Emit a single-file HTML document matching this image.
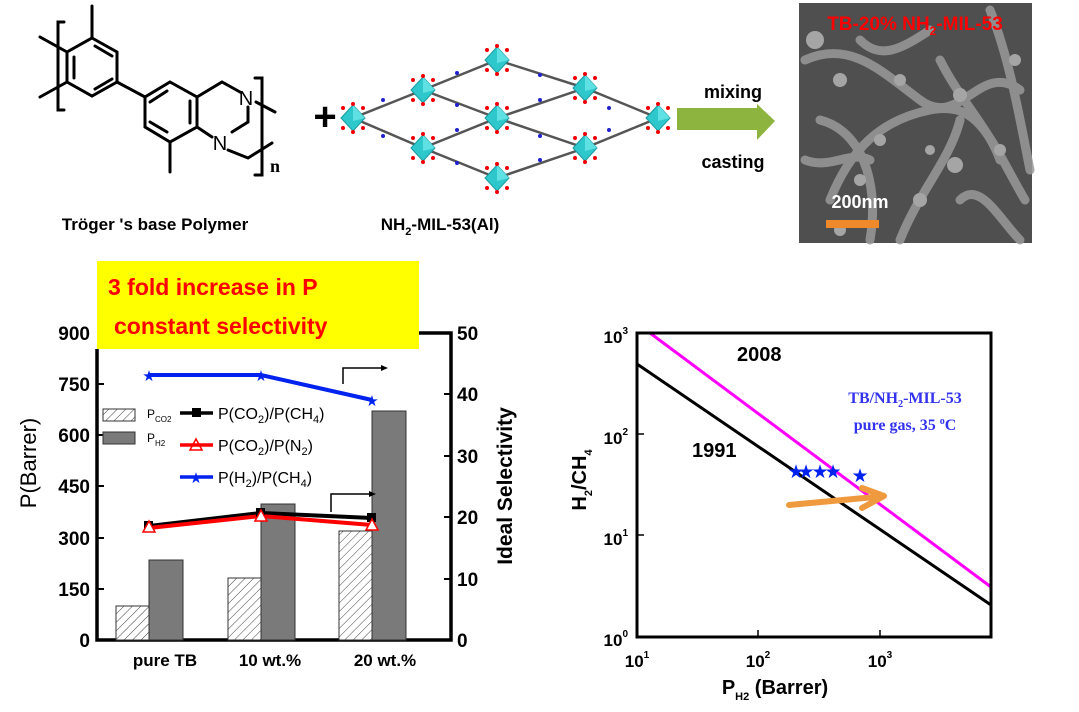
<!DOCTYPE html>
<html><head><meta charset="utf-8"><style>
body{margin:0;background:#fff}
svg{display:block;font-family:"Liberation Sans",sans-serif}
</style></head><body>
<svg width="1079" height="712" viewBox="0 0 1079 712" xmlns="http://www.w3.org/2000/svg">
<defs>
<pattern id="hatch" width="6" height="6" patternUnits="userSpaceOnUse" patternTransform="rotate(45)">
<rect width="6" height="6" fill="#fff"/><line x1="0" y1="0" x2="0" y2="6" stroke="#444" stroke-width="1"/></pattern>
<g id="node"><polygon points="0,-13 12,0 0,13 -12,0" fill="#2ec8cc" stroke="#1a9aa0" stroke-width="1"/><polygon points="0,-13 12,0 0,3" fill="#5fe0e3"/>
<circle cx="-10" cy="-10" r="2" fill="#e00"/><circle cx="10" cy="-10" r="2" fill="#e00"/><circle cx="-10" cy="10" r="2" fill="#e00"/><circle cx="10" cy="10" r="2" fill="#e00"/><circle cx="0" cy="-14" r="2" fill="#e00"/><circle cx="0" cy="14" r="2" fill="#e00"/></g>
</defs>

<!-- chemical structure -->
<g stroke="#000" stroke-width="3" fill="none" stroke-linecap="round">
<polygon points="92,38 117,52 117,82 92,96 67,82 67,52"/>
<line x1="74" y1="57" x2="74" y2="78"/><line x1="95" y1="46" x2="112" y2="56"/><line x1="95" y1="89" x2="112" y2="79"/>
<line x1="92" y1="38" x2="92" y2="6"/><line x1="67" y1="52" x2="40" y2="37"/><line x1="67" y1="82" x2="40" y2="97"/>
<path d="M64,22 H58 V110 H64"/>
<line x1="117" y1="82" x2="145" y2="97"/>
<polygon points="170,82 197,97 197,127 170,142 145,127 145,97"/>
<line x1="190" y1="101" x2="190" y2="123"/><line x1="150" y1="122" x2="167" y2="132"/><line x1="150" y1="102" x2="167" y2="91"/>
<line x1="170" y1="142" x2="170" y2="172"/>
<polyline points="197,97 222,82 240,92"/><polyline points="197,127 212,137"/>
<polyline points="248,107 248,122 232,132"/>
<polyline points="228,150 248,158 272,143"/>
<line x1="256" y1="102" x2="275" y2="112"/>
<path d="M255,78 H262 V175 H255"/>
</g>
<text x="246" y="105" font-size="20" text-anchor="middle">N</text>
<text x="220" y="150" font-size="20" text-anchor="middle">N</text>
<text x="270" y="172" font-size="18" font-family="Liberation Serif" font-weight="bold">n</text>
<text x="155" y="230" font-size="17" font-weight="bold" text-anchor="middle">Tröger 's base Polymer</text>
<text x="325" y="130" font-size="40" font-weight="bold" text-anchor="middle">+</text>

<!-- MOF -->
<g stroke="#555" stroke-width="2.5">
<line x1="353" y1="118" x2="423" y2="90"/><line x1="353" y1="118" x2="423" y2="148"/>
<line x1="423" y1="90" x2="497" y2="60"/><line x1="423" y1="90" x2="497" y2="118"/>
<line x1="423" y1="148" x2="497" y2="118"/><line x1="423" y1="148" x2="497" y2="178"/>
<line x1="497" y1="60" x2="585" y2="88"/><line x1="497" y1="118" x2="585" y2="88"/>
<line x1="497" y1="118" x2="585" y2="148"/><line x1="497" y1="178" x2="585" y2="148"/>
<line x1="585" y1="88" x2="658" y2="118"/><line x1="585" y1="148" x2="658" y2="118"/>
</g>
<g fill="#22c" >
<circle cx="383" cy="100" r="2"/><circle cx="383" cy="136" r="2"/><circle cx="457" cy="73" r="2"/><circle cx="457" cy="105" r="2"/><circle cx="457" cy="130" r="2"/><circle cx="457" cy="163" r="2"/><circle cx="540" cy="75" r="2"/><circle cx="540" cy="100" r="2"/><circle cx="540" cy="136" r="2"/><circle cx="540" cy="160" r="2"/><circle cx="609" cy="108" r="2"/><circle cx="609" cy="130" r="2"/>
</g>
<use href="#node" x="353" y="118"/><use href="#node" x="423" y="90"/><use href="#node" x="423" y="148"/>
<use href="#node" x="497" y="60"/><use href="#node" x="497" y="118"/><use href="#node" x="497" y="178"/>
<use href="#node" x="585" y="88"/><use href="#node" x="585" y="148"/><use href="#node" x="658" y="118"/>
<text x="440" y="230" font-size="17" font-weight="bold" text-anchor="middle">NH<tspan font-size="11" dy="5">2</tspan><tspan dy="-5">-MIL-53(Al)</tspan></text>

<!-- arrow -->
<polygon points="677,108 757,108 757,104 775,121 757,140 757,130 677,130" fill="#8db43e"/>
<text x="733" y="98" font-size="18" font-weight="bold" text-anchor="middle">mixing</text>
<text x="733" y="168" font-size="18" font-weight="bold" text-anchor="middle">casting</text>

<!-- SEM -->
<rect x="799" y="3" width="233" height="240" fill="#4f4f4f"/>
<g stroke="#9a9a9a" stroke-width="9" fill="none" stroke-linecap="round" opacity="0.85">
<path d="M805,60 C850,40 880,70 920,100 S980,60 1020,90"/>
<path d="M830,200 C850,150 880,120 930,110 S990,140 1025,200"/>
<path d="M900,240 C920,190 950,160 960,120"/>
<path d="M820,120 C860,130 880,180 870,240"/>
<path d="M990,10 C1010,60 1020,120 1030,170"/>
<path d="M940,60 C960,100 990,130 1000,160"/>
<path d="M860,40 C880,60 900,50 930,30"/>
<path d="M960,200 C980,180 1000,220 1020,240"/>
<path d="M805,160 C830,170 850,150 870,160"/>
</g>
<g fill="#a5a5a5"><circle cx="840" cy="80" r="7"/><circle cx="880" cy="140" r="6"/><circle cx="955" cy="165" r="8"/><circle cx="860" cy="180" r="6"/><circle cx="1000" cy="150" r="6"/><circle cx="920" cy="200" r="7"/><circle cx="815" cy="40" r="9"/><circle cx="900" cy="80" r="6"/><circle cx="960" cy="95" r="7"/><circle cx="1015" cy="60" r="6"/><circle cx="840" cy="230" r="6"/><circle cx="930" cy="150" r="5"/></g>
<text x="915" y="30" font-size="19" font-weight="bold" fill="#f00" text-anchor="middle">TB-20% NH<tspan font-size="12" dy="5">2</tspan><tspan dy="-5">-MIL-53</tspan></text>
<text x="860" y="208" font-size="18" font-weight="bold" fill="#fff" text-anchor="middle">200nm</text>
<rect x="826" y="220" width="53" height="8" fill="#f0892a"/>

<!-- left chart -->
<rect x="97" y="261" width="322" height="88" fill="#ffff00"/>
<text x="108" y="295" font-size="23" font-weight="bold" fill="#f00">3 fold increase in P</text>
<text x="114" y="334" font-size="23" font-weight="bold" fill="#f00">constant selectivity</text>
<g stroke="#000" stroke-width="3.5" fill="none">
<polyline points="97,349 97,640 451,640 451,333 419,333"/>
</g>
<g stroke="#000" stroke-width="2">
<line x1="97" y1="384" x2="104" y2="384"/><line x1="97" y1="435" x2="104" y2="435"/><line x1="97" y1="486" x2="104" y2="486"/><line x1="97" y1="538" x2="104" y2="538"/><line x1="97" y1="589" x2="104" y2="589"/>
<line x1="444" y1="394" x2="451" y2="394"/><line x1="444" y1="456" x2="451" y2="456"/><line x1="444" y1="517" x2="451" y2="517"/><line x1="444" y1="579" x2="451" y2="579"/>
</g>
<g font-size="19" font-weight="bold" text-anchor="end">
<text x="90" y="340">900</text><text x="90" y="391">750</text><text x="90" y="442">600</text><text x="90" y="493">450</text><text x="90" y="545">300</text><text x="90" y="596">150</text><text x="90" y="647">0</text>
</g>
<g font-size="19" font-weight="bold">
<text x="457" y="340">50</text><text x="457" y="401">40</text><text x="457" y="463">30</text><text x="457" y="524">20</text><text x="457" y="586">10</text><text x="457" y="647">0</text>
</g>
<text transform="translate(36,463) rotate(-90)" font-size="22" text-anchor="middle">P(Barrer)</text>
<text transform="translate(512,486) rotate(-90)" font-size="21" font-weight="bold" text-anchor="middle">Ideal Selectivity</text>
<g font-size="17" font-weight="bold" text-anchor="middle">
<text x="165" y="666">pure TB</text><text x="270" y="666">10 wt.%</text><text x="385" y="666">20 wt.%</text>
</g>
<g stroke="#333" stroke-width="1">
<rect x="116" y="606" width="33" height="34" fill="url(#hatch)"/>
<rect x="149" y="560" width="34" height="80" fill="#7a7a7a"/>
<rect x="228" y="578" width="33" height="62" fill="url(#hatch)"/>
<rect x="261" y="504" width="34" height="136" fill="#7a7a7a"/>
<rect x="339" y="531" width="33" height="109" fill="url(#hatch)"/>
<rect x="372" y="411" width="34" height="229" fill="#7a7a7a"/>
<rect x="103" y="409" width="32" height="12" fill="url(#hatch)"/>
<rect x="103" y="432" width="32" height="12" fill="#7a7a7a"/>
</g>
<text x="147" y="418" font-size="12">P<tspan font-size="8" dy="4">CO2</tspan></text>
<text x="147" y="442" font-size="12">P<tspan font-size="8" dy="4">H2</tspan></text>
<!-- lines -->
<polyline points="149,526 261,513 372,518" stroke="#000" stroke-width="4" fill="none"/>
<polyline points="149,528 261,516 372,525" stroke="#f00" stroke-width="4" fill="none"/>
<polyline points="149,375 261,375 372,400" stroke="#0022ee" stroke-width="4" fill="none"/>
<g fill="#000"><rect x="144" y="521" width="9" height="9"/><rect x="256" y="508" width="9" height="9"/><rect x="367" y="513" width="9" height="9"/><rect x="192" y="408" width="9" height="9"/></g>
<g fill="#fff" stroke="#f00" stroke-width="1.5"><polygon points="149,521 155,532 143,532"/><polygon points="261,510 267,521 255,521"/><polygon points="372,519 378,530 366,530"/><polygon points="196,439 202,450 190,450"/></g>
<g fill="#0022ee" font-size="15" text-anchor="middle"><text x="149" y="381">★</text><text x="261" y="381">★</text><text x="372" y="406">★</text><text x="196" y="483">★</text></g>
<line x1="180" y1="413" x2="213" y2="413" stroke="#000" stroke-width="3.5"/>
<line x1="180" y1="445" x2="213" y2="445" stroke="#f00" stroke-width="3.5"/>
<line x1="180" y1="477" x2="213" y2="477" stroke="#0022ee" stroke-width="3.5"/>
<g font-size="16"><text x="218" y="419">P(CO<tspan font-size="11" dy="4">2</tspan><tspan dy="-4">)/P(CH</tspan><tspan font-size="11" dy="4">4</tspan><tspan dy="-4">)</tspan></text>
<text x="218" y="451">P(CO<tspan font-size="11" dy="4">2</tspan><tspan dy="-4">)/P(N</tspan><tspan font-size="11" dy="4">2</tspan><tspan dy="-4">)</tspan></text>
<text x="218" y="483">P(H<tspan font-size="11" dy="4">2</tspan><tspan dy="-4">)/P(CH</tspan><tspan font-size="11" dy="4">4</tspan><tspan dy="-4">)</tspan></text></g>
<g stroke="#000" stroke-width="1.5" fill="none"><polyline points="343,384 343,368 384,368"/><polyline points="331,512 331,494 372,494"/></g>
<polygon points="388,368 381,365 381,371" fill="#000"/><polygon points="376,494 369,491 369,497" fill="#000"/>

<!-- right chart -->
<polyline points="650,333 991,587" stroke="#ff00ff" stroke-width="3" fill="none"/>
<polyline points="637,364 991,605" stroke="#000" stroke-width="3" fill="none"/>
<rect x="637" y="333" width="354" height="304" fill="none" stroke="#000" stroke-width="3"/>
<g stroke="#000" stroke-width="1.5">
<line x1="637" y1="434" x2="644" y2="434"/><line x1="637" y1="535" x2="644" y2="535"/>
<line x1="758" y1="637" x2="758" y2="630"/><line x1="880" y1="637" x2="880" y2="630"/>
</g>
<g font-size="17" font-weight="bold" text-anchor="end">
<text x="628" y="343">10<tspan font-size="10" dy="-9">3</tspan></text>
<text x="628" y="444">10<tspan font-size="10" dy="-9">2</tspan></text>
<text x="628" y="545">10<tspan font-size="10" dy="-9">1</tspan></text>
<text x="628" y="646">10<tspan font-size="10" dy="-9">0</tspan></text>
</g>
<g font-size="17" font-weight="bold" text-anchor="middle">
<text x="637" y="667">10<tspan font-size="10" dy="-9">1</tspan></text>
<text x="758" y="667">10<tspan font-size="10" dy="-9">2</tspan></text>
<text x="880" y="667">10<tspan font-size="10" dy="-9">3</tspan></text>
</g>
<text x="775" y="694" font-size="20" font-weight="bold" text-anchor="middle">P<tspan font-size="11" dy="6">H2</tspan><tspan dy="-6"> (Barrer)</tspan></text>
<text transform="translate(586,480) rotate(-90)" font-size="20" font-weight="bold" text-anchor="middle">H<tspan font-size="11" dy="6">2</tspan><tspan dy="-6">/CH</tspan><tspan font-size="11" dy="6">4</tspan></text>
<text x="737" y="361" font-size="20" font-weight="bold">2008</text>
<text x="692" y="457" font-size="20" font-weight="bold">1991</text>
<g font-family="Liberation Serif" font-weight="bold" fill="#3333ee" text-anchor="middle">
<text x="905" y="403" font-size="16">TB/NH<tspan font-size="10" dy="4">2</tspan><tspan dy="-4">-MIL-53</tspan></text>
<text x="905" y="430" font-size="16">pure gas, 35 <tspan font-size="10" dy="-6">o</tspan><tspan dy="6">C</tspan></text>
</g>
<g fill="#0022ee" font-size="19" text-anchor="middle"><text x="796" y="478">★</text><text x="806" y="478">★</text><text x="820" y="478">★</text><text x="833" y="478">★</text><text x="860" y="482">★</text></g>
<line x1="789" y1="505" x2="875" y2="497" stroke="#f09a40" stroke-width="6" stroke-linecap="round"/>
<polyline points="862,488 884,496 862,508" stroke="#f09a40" stroke-width="6" fill="none" stroke-linecap="round" stroke-linejoin="round"/>
</svg>
</body></html>
